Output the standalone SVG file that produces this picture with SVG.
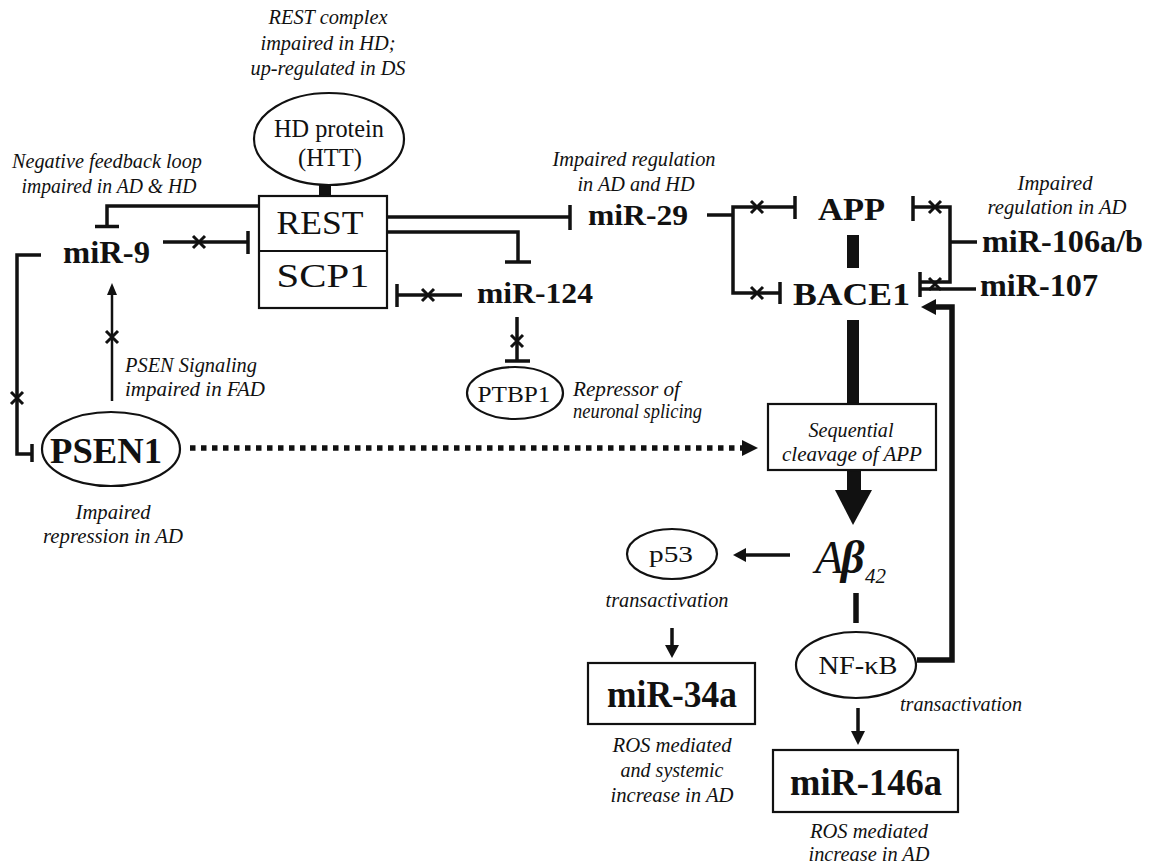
<svg xmlns="http://www.w3.org/2000/svg" width="1149" height="867" viewBox="0 0 1149 867" font-family="'Liberation Serif', 'Times New Roman', Times, serif">
<defs>
<style>
text{font-family:"Liberation Serif","Times New Roman",Times,serif;fill:#111;}
.cap{font-style:italic;font-size:20px;text-anchor:middle;}
.capl{font-style:italic;font-size:20px;text-anchor:start;}
.lbl{font-weight:bold;text-anchor:start;}
.reg{text-anchor:middle;}
.shape{fill:#fff;stroke:#111;stroke-width:2.2;}
.ln{fill:none;stroke:#111;stroke-width:3.5;stroke-linecap:butt;stroke-linejoin:miter;}
.thin{fill:none;stroke:#111;stroke-width:2.5;}
.thick{fill:none;stroke:#111;stroke-width:5.5;}
.x{fill:none;stroke:#111;stroke-width:3;}
.fill{fill:#111;stroke:none;}
</style>
</defs>
<rect width="1149" height="867" fill="#fff"/>

<g id="captions">
<text class="cap" x="328" y="24" textLength="119" lengthAdjust="spacingAndGlyphs">REST complex</text>
<text class="cap" x="328" y="50" textLength="135" lengthAdjust="spacingAndGlyphs">impaired in HD;</text>
<text class="cap" x="328" y="75" textLength="155" lengthAdjust="spacingAndGlyphs">up-regulated in DS</text>
<text class="cap" x="107" y="168" textLength="190" lengthAdjust="spacingAndGlyphs">Negative feedback loop</text>
<text class="cap" x="109" y="193" textLength="175" lengthAdjust="spacingAndGlyphs">impaired in AD &amp; HD</text>
<text class="cap" x="634" y="166" textLength="163" lengthAdjust="spacingAndGlyphs">Impaired regulation</text>
<text class="cap" x="636" y="191" textLength="117" lengthAdjust="spacingAndGlyphs">in AD and HD</text>
<text class="cap" x="1055" y="190" textLength="75" lengthAdjust="spacingAndGlyphs">Impaired</text>
<text class="cap" x="1057" y="214" textLength="139" lengthAdjust="spacingAndGlyphs">regulation in AD</text>
<text class="capl" x="125" y="372" textLength="132" lengthAdjust="spacingAndGlyphs">PSEN Signaling</text>
<text class="capl" x="125" y="396" textLength="140" lengthAdjust="spacingAndGlyphs">impaired in FAD</text>
<text class="cap" x="113" y="519" textLength="75" lengthAdjust="spacingAndGlyphs">Impaired</text>
<text class="cap" x="113" y="543" textLength="140" lengthAdjust="spacingAndGlyphs">repression in AD</text>
<text class="capl" x="573" y="396" textLength="107" lengthAdjust="spacingAndGlyphs">Repressor of</text>
<text class="capl" x="573" y="418" textLength="129" lengthAdjust="spacingAndGlyphs">neuronal splicing</text>
<text class="cap" x="667" y="607" textLength="123" lengthAdjust="spacingAndGlyphs">transactivation</text>
<text class="cap" x="961" y="711" textLength="122" lengthAdjust="spacingAndGlyphs">transactivation</text>
<text class="cap" x="672" y="752" textLength="119" lengthAdjust="spacingAndGlyphs">ROS mediated</text>
<text class="cap" x="672" y="777" textLength="103" lengthAdjust="spacingAndGlyphs">and systemic</text>
<text class="cap" x="672" y="802" textLength="123" lengthAdjust="spacingAndGlyphs">increase in AD</text>
<text class="cap" x="869" y="838" textLength="118" lengthAdjust="spacingAndGlyphs">ROS mediated</text>
<text class="cap" x="869" y="861" textLength="121" lengthAdjust="spacingAndGlyphs">increase in AD</text>
</g>

<g id="connectors">
<rect class="fill" x="319" y="184" width="12" height="13"/>
<path class="ln" d="M258,206 H107 V226"/>
<path class="ln" d="M95,226.5 H119"/>
<path class="ln" d="M163,242 H248"/>
<path class="ln" d="M248,231 V254"/>
<path class="x" d="M193,236 L205,248 M193,248 L205,236"/>
<path class="ln" d="M41,255 H17 V454 H32"/>
<path class="ln" d="M32,444 V462"/>
<path class="x" d="M11,392 L23,404 M11,404 L23,392"/>
<path class="thin" d="M112,401 V292"/>
<polygon class="fill" points="112,283 107,295 117,295"/>
<path class="x" d="M106,331 L118,343 M106,343 L118,331"/>
<path class="ln" d="M388,217 H570"/>
<path class="ln" d="M570,205 V230"/>
<path class="ln" d="M388,232 H518 V262"/>
<path class="ln" d="M505,262 H531"/>
<path class="ln" d="M462,295 H397"/>
<path class="ln" d="M397,284 V307"/>
<path class="x" d="M422,289 L434,301 M422,301 L434,289"/>
<path class="ln" d="M517,317 V361"/>
<path class="ln" d="M505,361 H530"/>
<path class="x" d="M511,335 L523,347 M511,347 L523,335"/>
<path class="ln" d="M707,215 H733"/>
<path class="ln" d="M795,207 H733 V293 H780"/>
<path class="ln" d="M795,196 V219"/>
<path class="ln" d="M780,282 V304"/>
<path class="x" d="M751,201 L763,213 M751,213 L763,201"/>
<path class="x" d="M751,287 L763,299 M751,299 L763,287"/>
<path class="ln" d="M977,242 H950"/>
<path class="ln" d="M913,207 H950 V282 H920"/>
<path class="ln" d="M913,196 V221"/>
<path class="ln" d="M920,272 V297"/>
<path class="x" d="M929,201 L941,213 M929,213 L941,201"/>
<path class="x" d="M929,278 L941,290 M929,290 L941,278"/>
<path class="ln" d="M976,289 H920"/>
<rect class="fill" x="847" y="235" width="12" height="33"/>
<rect class="fill" x="847" y="320" width="12" height="84"/>
<rect class="fill" x="847" y="469" width="14" height="22"/>
<polygon class="fill" points="835,490 872,490 853,525"/>
<path class="thick" d="M190,448 H744" stroke-dasharray="5.5 5.5"/>
<polygon class="fill" points="742,440 758,448 742,456"/>
<path class="ln" d="M790,555 H744"/>
<polygon class="fill" points="746,548 733,555 746,562"/>
<path class="thick" d="M856,593 V623"/>
<path class="ln" d="M672,628 V647"/>
<polygon class="fill" points="665,645 679,645 672,658"/>
<path class="thick" d="M917,660 H952 V307 H934"/>
<polygon class="fill" points="936,299 921,307 936,315"/>
<path class="ln" d="M858,708 V733"/>
<polygon class="fill" points="851,731 865,731 858,745"/>
</g>

<g id="htt">
<ellipse class="shape" cx="329" cy="139" rx="75" ry="46"/>
<text class="reg" x="329" y="137" font-size="25" textLength="110" lengthAdjust="spacingAndGlyphs">HD protein</text>
<text class="reg" x="330" y="166" font-size="25" textLength="64" lengthAdjust="spacingAndGlyphs">(HTT)</text>
</g>
<g id="rest-scp1">
<rect class="shape" x="259" y="196" width="128" height="112"/>
<line x1="259" y1="251" x2="387" y2="251" stroke="#111" stroke-width="2.2"/>
<text class="reg" x="320" y="234" font-size="33" textLength="87" lengthAdjust="spacingAndGlyphs">REST</text>
<text class="reg" x="323" y="287" font-size="33" textLength="93" lengthAdjust="spacingAndGlyphs">SCP1</text>
</g>
<g id="mir9"><text class="lbl" x="63" y="263" font-size="31" textLength="87" lengthAdjust="spacingAndGlyphs">miR-9</text></g>
<g id="mir29"><text class="lbl" x="588" y="225" font-size="30" textLength="100" lengthAdjust="spacingAndGlyphs">miR-29</text></g>
<g id="mir124"><text class="lbl" x="477" y="303" font-size="30" textLength="116" lengthAdjust="spacingAndGlyphs">miR-124</text></g>
<g id="app"><text class="lbl" x="818" y="220" font-size="32" textLength="67" lengthAdjust="spacingAndGlyphs">APP</text></g>
<g id="bace1"><text class="lbl" x="793" y="305" font-size="32" textLength="117" lengthAdjust="spacingAndGlyphs">BACE1</text></g>
<g id="mir106"><text class="lbl" x="982" y="252" font-size="31" textLength="161" lengthAdjust="spacingAndGlyphs">miR-106a/b</text></g>
<g id="mir107"><text class="lbl" x="980" y="296" font-size="31" textLength="118" lengthAdjust="spacingAndGlyphs">miR-107</text></g>
<g id="ptbp1">
<ellipse class="shape" cx="515" cy="393" rx="48" ry="26"/>
<text class="reg" x="514" y="402" font-size="24" textLength="73" lengthAdjust="spacingAndGlyphs">PTBP1</text>
</g>
<g id="psen1">
<ellipse class="shape" cx="111" cy="449" rx="69" ry="37"/>
<text class="lbl" x="50" y="463" font-size="35" textLength="112" lengthAdjust="spacingAndGlyphs">PSEN1</text>
</g>
<g id="sequential">
<rect class="shape" x="768" y="404" width="168" height="66"/>
<text class="cap" x="851" y="437" textLength="85" lengthAdjust="spacingAndGlyphs">Sequential</text>
<text class="cap" x="852" y="461" textLength="140" lengthAdjust="spacingAndGlyphs">cleavage of APP</text>
</g>
<g id="abeta">
<text x="815" y="573" font-size="46" font-style="italic">A<tspan x="841" font-weight="bold">β</tspan><tspan x="865" dy="10" font-size="21">42</tspan></text>
</g>
<g id="p53">
<ellipse class="shape" cx="672" cy="554" rx="45" ry="25"/>
<text class="reg" x="671" y="562" font-size="24" textLength="44" lengthAdjust="spacingAndGlyphs">p53</text>
</g>
<g id="nfkb">
<ellipse class="shape" cx="856" cy="665" rx="60" ry="33"/>
<text class="reg" x="858" y="674" font-size="26" textLength="79" lengthAdjust="spacingAndGlyphs">NF-κB</text>
</g>
<g id="mir34a">
<rect class="shape" x="588" y="663" width="167" height="61"/>
<text class="reg" x="672" y="707" font-size="37" font-weight="bold" textLength="130" lengthAdjust="spacingAndGlyphs">miR-34a</text>
</g>
<g id="mir146a">
<rect class="shape" x="773" y="750" width="185" height="62"/>
<text class="reg" x="866" y="795" font-size="37" font-weight="bold" textLength="152" lengthAdjust="spacingAndGlyphs">miR-146a</text>
</g>
</svg>
